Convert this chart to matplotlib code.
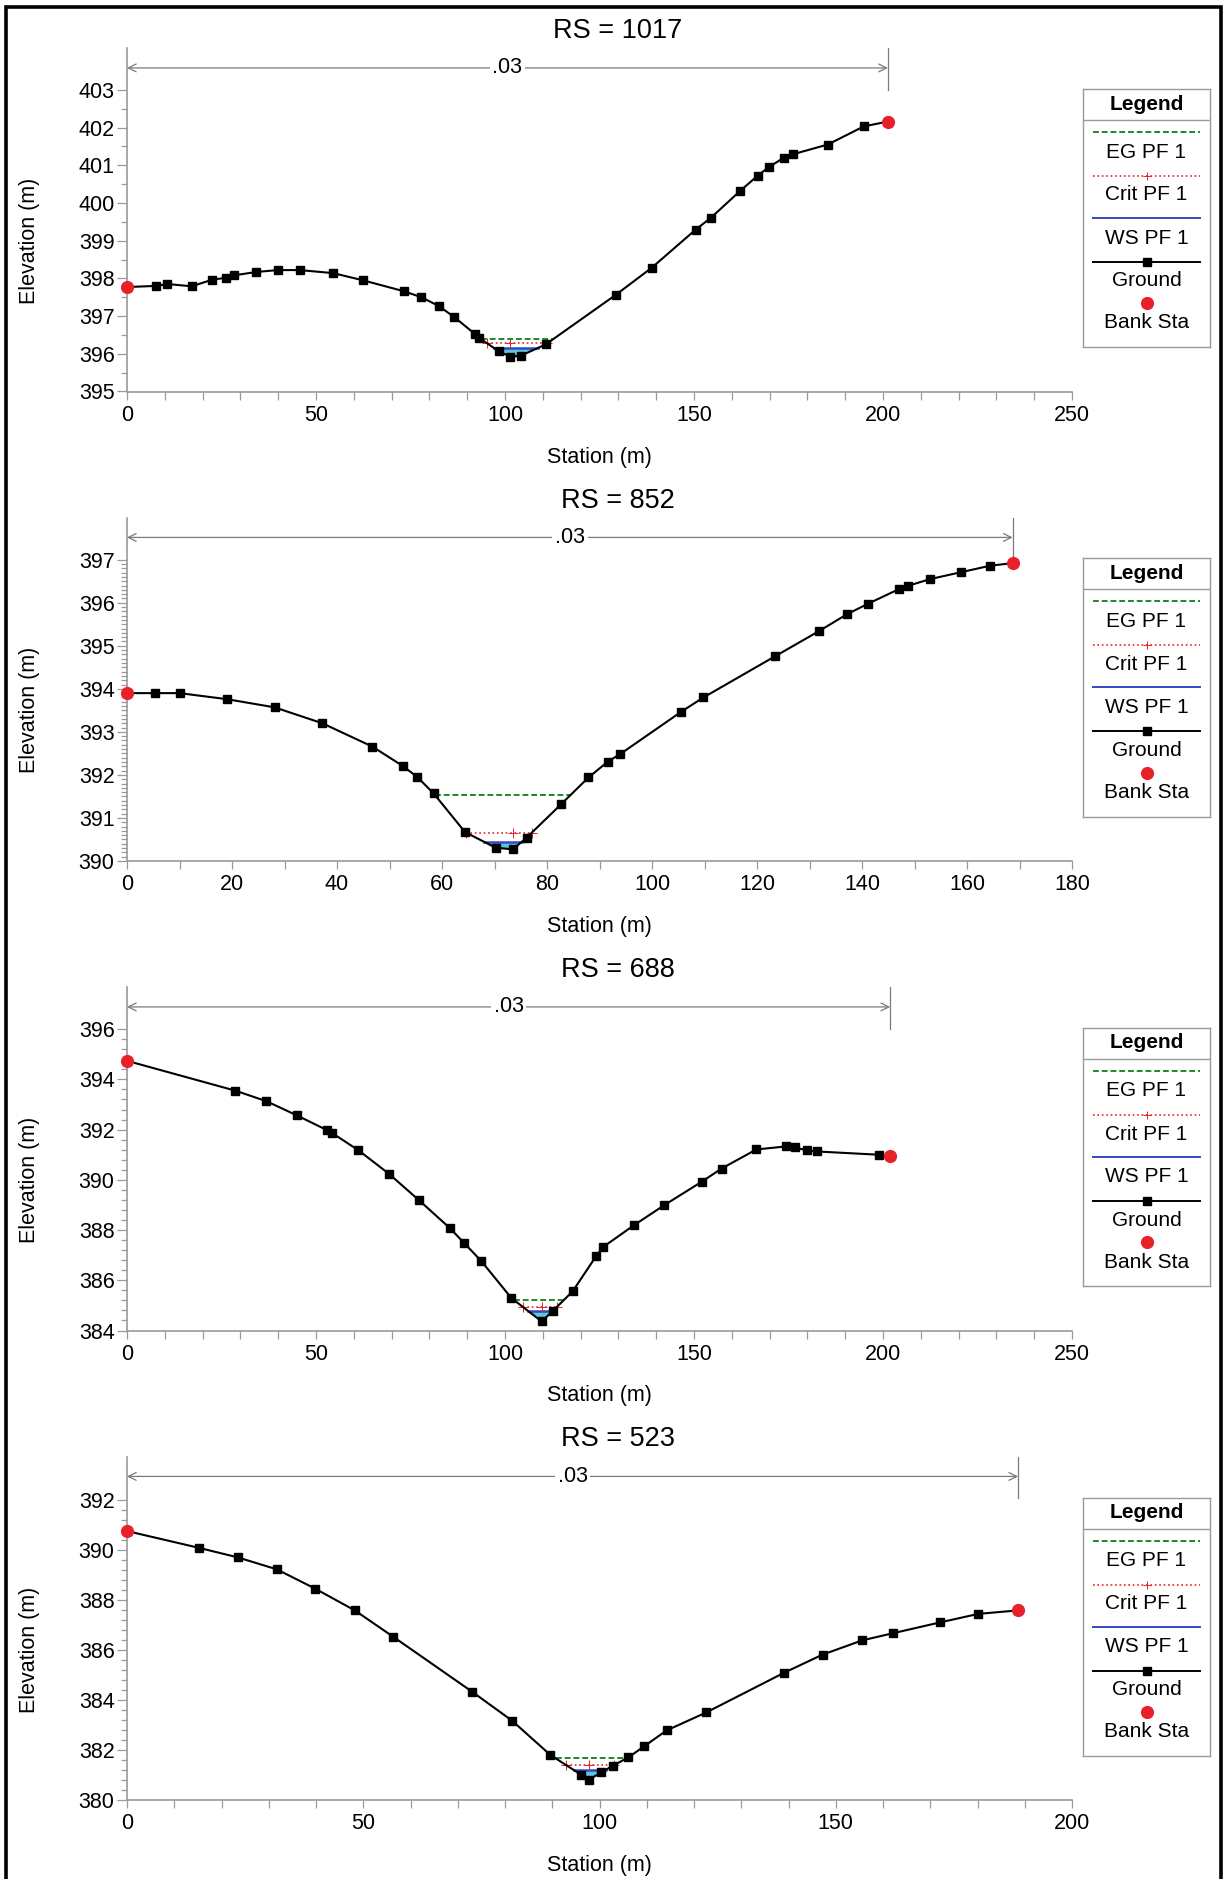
import numpy as np
import matplotlib.pyplot as plt
from matplotlib.patches import Rectangle
from matplotlib.ticker import FixedLocator

plt.rcParams['font.family'] = ['Liberation Sans', 'DejaVu Sans']

# cross-section ground points (station m, elevation m)
sta_1017 = [0, 7.6, 10.7, 17.1, 22.4, 26.3, 28.3, 34.2, 39.9, 45.7, 54.5, 62.4,
            73.2, 77.9, 82.6, 86.6, 92.0, 93.2, 98.3, 101.4, 104.2, 110.8, 129.4,
            138.8, 150.4, 154.5, 162.1, 166.8, 169.9, 173.8, 176.1, 185.4, 194.9, 201.3]
elev_1017 = [397.77, 397.80, 397.85, 397.79, 397.96, 398.02, 398.08, 398.17, 398.22,
             398.22, 398.14, 397.95, 397.66, 397.50, 397.26, 396.97, 396.53, 396.42,
             396.07, 395.92, 395.95, 396.25, 397.57, 398.28, 399.29, 399.61, 400.31,
             400.72, 400.96, 401.20, 401.29, 401.55, 402.03, 402.16]

sta_852 = [0, 5.3, 10.0, 19.0, 28.1, 37.2, 46.7, 52.5, 55.3, 58.4, 64.4, 70.2, 73.5,
           76.1, 82.7, 87.9, 91.6, 93.9, 105.6, 109.8, 123.5, 131.8, 137.1, 141.2,
           147.1, 148.7, 153.0, 158.9, 164.4, 168.7]
elev_852 = [393.90, 393.90, 393.90, 393.76, 393.57, 393.20, 392.66, 392.21, 391.95,
            391.57, 390.67, 390.31, 390.27, 390.54, 391.32, 391.94, 392.31, 392.48,
            393.47, 393.80, 394.76, 395.34, 395.73, 395.98, 396.32, 396.39, 396.55,
            396.71, 396.86, 396.92]

sta_688 = [0, 28.7, 36.9, 44.9, 52.9, 54.3, 61.2, 69.3, 77.3, 85.4, 89.1, 93.7, 101.7,
           109.7, 112.6, 117.9, 124.1, 126.0, 134.1, 142.1, 152.0, 157.3, 166.5, 174.3,
           176.6, 180.0, 182.5, 198.9, 201.9]
elev_688 = [394.74, 393.55, 393.13, 392.57, 391.98, 391.86, 391.18, 390.24, 389.18,
            388.08, 387.50, 386.77, 385.29, 384.36, 384.77, 385.56, 386.96, 387.33,
            388.19, 388.99, 389.92, 390.45, 391.21, 391.33, 391.29, 391.17, 391.13,
            391.00, 390.93]

sta_523 = [0, 15.2, 23.4, 31.7, 39.8, 48.2, 56.3, 73.1, 81.5, 89.6, 96.1, 97.7, 100.4,
           102.8, 106.1, 109.4, 114.2, 122.6, 139.1, 147.2, 155.6, 162.2, 172.1, 180.2, 188.6]
elev_523 = [390.75, 390.08, 389.70, 389.22, 388.45, 387.58, 386.53, 384.32, 383.17,
            381.80, 381.01, 380.81, 381.10, 381.37, 381.70, 382.14, 382.78, 383.50,
            385.09, 385.81, 386.38, 386.67, 387.10, 387.44, 387.58]

# profile results: energy grade, critical and water surface elevations
eg_levels = [396.39, 391.53, 385.21, 381.66]
crit_levels = [396.28, 390.66, 384.93, 381.39]
ws_levels = [396.16, 390.45, 384.77, 381.20]

sections = ['1017', '852', '688', '523']
stations = [sta_1017, sta_852, sta_688, sta_523]
elevations = [elev_1017, elev_852, elev_688, elev_523]
n_value = '.03'

x_limits = [(0, 250), (0, 180), (0, 250), (0, 200)]
x_major = [50, 20, 50, 50]
y_limits = [(395, 404.11), (390, 397.98), (384, 397.68), (380, 393.73)]
y_tick_range = [(395, 403), (390, 397), (384, 396), (380, 392)]
y_major = [1, 1, 2, 2]
y_minor = [0.5, 0.1, 0.4, 0.4]

W, H = 1225, 1879
fig = plt.figure(figsize=(W / 100, H / 100), dpi=100)

# outer frame
fig.patches.append(Rectangle((6 / W, -0.01), 1215 / W, 1 - 7 / H + 0.01,
                             transform=fig.transFigure, fill=False,
                             edgecolor='black', linewidth=2.6))

GRAY = '#9a9a9a'
EG_COLOR = '#1f8a2a'
CRIT_COLOR = '#e8242a'
WS_COLOR = '#3448c0'
FILL_COLOR = '#5cc6df'
BANK_COLOR = '#e8202a'
FS = 15.5


def crossing(x, y, level, start, step):
    # walk away from the thalweg until the ground rises above the level
    i = start
    while 0 <= i + step < len(x):
        j = i + step
        if y[j] >= level:
            return x[i] + (level - y[i]) / (y[j] - y[i]) * (x[j] - x[i])
        i = j
    return x[i]


def draw_legend(top_px):
    lax = fig.add_axes([1083 / W, 1 - (top_px + 258) / H, 127 / W, 258 / H])
    lax.set_xlim(0, 127)
    lax.set_ylim(258, 0)
    lax.set_xticks([])
    lax.set_yticks([])
    for s in lax.spines.values():
        s.set_color(GRAY)
        s.set_linewidth(1.0)
    lax.text(63.5, 15, 'Legend', ha='center', va='center', fontsize=15, fontweight='bold')
    lax.plot([0, 127], [31, 31], color=GRAY, lw=1.0)
    xs = [10, 117]
    lax.plot(xs, [43, 43], color=EG_COLOR, lw=1.4, ls=(0, (3, 1.5)))
    lax.text(63.5, 63, 'EG PF 1', ha='center', va='center', fontsize=15)
    lax.plot(xs, [87, 87], color=CRIT_COLOR, lw=1.2, ls=':')
    lax.plot([63.5], [87], marker='+', color=CRIT_COLOR, ms=6, mew=0.7)
    lax.text(63.5, 106, 'Crit PF 1', ha='center', va='center', fontsize=15)
    lax.plot(xs, [129, 129], color=WS_COLOR, lw=1.4)
    lax.text(63.5, 149, 'WS PF 1', ha='center', va='center', fontsize=15)
    lax.plot(xs, [173, 173], color='black', lw=1.4)
    lax.plot([63.5], [173], marker='s', color='black', ms=5.5)
    lax.text(63.5, 192, 'Ground', ha='center', va='center', fontsize=15)
    lax.plot([63.5], [214], marker='o', color=BANK_COLOR, ms=9.5, mec='none')
    lax.text(63.5, 234, 'Bank Sta', ha='center', va='center', fontsize=15)


for k in range(4):
    off = 469.5 * k
    top, bottom = 48 + off, 391.5 + off
    ax = fig.add_axes([127 / W, 1 - bottom / H, 945 / W, (bottom - top) / H])
    x = np.array(stations[k], dtype=float)
    y = np.array(elevations[k], dtype=float)
    low = int(np.argmin(y))

    # water surface fill and profile lines
    ws = ws_levels[k]
    xl = crossing(x, y, ws, low, -1)
    xr = crossing(x, y, ws, low, 1)
    inside = (x > xl) & (x < xr)
    fx = np.concatenate([[xl], x[inside], [xr]])
    fy = np.concatenate([[ws], y[inside], [ws]])
    ax.fill_between(fx, fy, ws, color=FILL_COLOR, lw=0, zorder=1)
    ax.plot([xl, xr], [ws, ws], color=WS_COLOR, lw=1.8, zorder=2)

    cr = crit_levels[k]
    cl = crossing(x, y, cr, low, -1)
    crr = crossing(x, y, cr, low, 1)
    ax.plot([cl, crr], [cr, cr], color=CRIT_COLOR, lw=1.2, ls=':', zorder=3)
    ax.plot([cl, x[low], crr], [cr, cr, cr], ls='none', marker='+',
            color=CRIT_COLOR, ms=6.5, mew=0.7, zorder=3)

    eg = eg_levels[k]
    el = crossing(x, y, eg, low, -1)
    er = crossing(x, y, eg, low, 1)
    ax.plot([el, er], [eg, eg], color=EG_COLOR, lw=1.4, ls=(0, (3, 1.5)), zorder=3)

    ax.plot(x, y, color='black', lw=1.5, marker='s', ms=6, zorder=4)
    ax.plot([x[0], x[-1]], [y[0], y[-1]], ls='none', marker='o', ms=9.5,
            color=BANK_COLOR, mec='none', zorder=5, clip_on=False)

    # Manning's n span between bank stations
    tr = ax.get_xaxis_transform()
    ax.annotate('', xy=(x[-1], 0.942), xytext=(x[0], 0.942), xycoords=tr,
                arrowprops=dict(arrowstyle='<->', color='#7a7a7a', lw=0.9,
                                shrinkA=0, shrinkB=0, mutation_scale=14))
    ax.plot([x[-1], x[-1]], [0.878, 1.0], transform=tr, color='#7a7a7a', lw=0.9)
    ax.text((x[0] + x[-1]) / 2, 0.942, n_value, transform=tr, ha='center',
            va='center', fontsize=FS,
            bbox=dict(facecolor='white', edgecolor='none', pad=2))

    ax.set_xlim(*x_limits[k])
    ax.set_ylim(*y_limits[k])
    ax.xaxis.set_major_locator(FixedLocator(np.arange(x_limits[k][0], x_limits[k][1] + 1, x_major[k])))
    ax.xaxis.set_minor_locator(FixedLocator(np.arange(x_limits[k][0], x_limits[k][1] + 1, 10)))
    y0, y1 = y_tick_range[k]
    ax.yaxis.set_major_locator(FixedLocator(np.arange(y0, y1 + 0.01, y_major[k])))
    ax.yaxis.set_minor_locator(FixedLocator(np.arange(y0, y1 + 0.01, y_minor[k])))
    ax.xaxis.set_major_formatter(plt.FuncFormatter(lambda v, p: '%d' % v))
    ax.yaxis.set_major_formatter(plt.FuncFormatter(lambda v, p: '%d' % v))

    for s in ['top', 'right']:
        ax.spines[s].set_visible(False)
    for s in ['left', 'bottom']:
        ax.spines[s].set_color(GRAY)
        ax.spines[s].set_linewidth(1.2)
    ax.tick_params(which='both', direction='out', color=GRAY, width=0.9, labelsize=FS)
    ax.tick_params(axis='y', which='major', length=7, pad=2)
    ax.tick_params(axis='y', which='minor', length=4)
    ax.tick_params(axis='x', which='both', length=6, pad=3.5)

    # titles and axis labels
    fig.text(618 / W, 1 - (31 + off) / H, 'RS = ' + sections[k], ha='center',
             va='center', fontsize=19.5)
    fig.text(599 / W, 1 - (457 + off) / H, 'Station (m)', ha='center',
             va='center', fontsize=FS)
    ymid = (ax.transData.transform((0, y0))[1] + ax.transData.transform((0, y1))[1]) / 2
    fig.text(30 / W, ymid / H, 'Elevation (m)', ha='center', va='center',
             rotation=90, fontsize=FS)

    draw_legend(89 + off)

fig.savefig('out.png', dpi=100)
